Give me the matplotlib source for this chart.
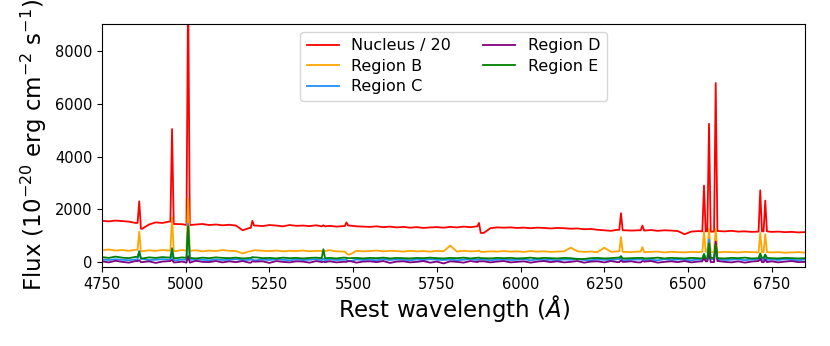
import numpy as np
import matplotlib.pyplot as plt

# continuum samples every 20 A from 4750 to 6850
grid = np.arange(4750, 6851, 20)

nucleus_cont = [1560, 1540, 1570, 1550, 1530, 1480, 1260, 1420, 1500, 1480,
                1530, 1440, 1430, 1400, 1420, 1440, 1400, 1420, 1390, 1410,
                1380, 1200, 1290, 1380, 1360, 1400, 1380, 1350, 1400, 1370,
                1380, 1360, 1390, 1350, 1370, 1340, 1360, 1380, 1350, 1340,
                1330, 1350, 1320, 1340, 1310, 1330, 1300, 1320, 1290, 1310,
                1320, 1300, 1330, 1310, 1340, 1320, 1350, 1100, 1280, 1310,
                1300, 1310, 1290, 1300, 1280, 1300, 1290, 1270, 1290, 1280,
                1260, 1270, 1240, 1250, 1220, 1200, 1180, 1220, 1200, 1190,
                1200, 1190, 1210, 1180, 1200, 1190, 1170, 1050, 1150, 1170,
                1160, 1150, 1170, 1160, 1180, 1150, 1160, 1140, 1150, 1160,
                1140, 1150, 1130, 1140, 1120, 1130]
region_b_cont = [440, 470, 430, 450, 420, 460, 400, 440, 420, 450,
                 430, 410, 450, 420, 440, 400, 430, 410, 450, 420,
                 410, 320, 400, 440, 420, 410, 430, 400, 420, 410,
                 430, 400, 420, 410, 440, 400, 390, 280, 420, 400,
                 410, 430, 400, 420, 410, 390, 420, 400, 410, 390,
                 420, 400, 620, 390, 420, 400, 410, 380, 400, 390,
                 410, 390, 400, 380, 410, 390, 400, 380, 390, 400,
                 540, 400, 380, 390, 370, 540, 380, 400, 380, 370,
                 390, 370, 380, 390, 360, 380, 370, 360, 380, 370,
                 380, 370, 360, 380, 370, 360, 380, 370, 360, 370,
                 360, 370, 350, 360, 370, 350]
region_c_cont = [90, 70, 100, 80, 60, 90, 110, 70, 80, 100,
                 80, 60, 90, 70, 100, 80, 60, 90, 70, 80,
                 100, 70, 80, 60, 90, 70, 100, 80, 60, 90,
                 70, 80, 100, 60, 90, 70, 80, 20, 90, 70,
                 80, 60, 100, 70, 90, 80, 60, 90, 70, 100,
                 80, 70, 90, 60, 80, 100, 70, 90, 60, 80,
                 90, 70, 80, 100, 60, 90, 70, 80, 60, 90,
                 80, 100, 70, 60, 90, 80, 70, 100, 60, 80,
                 90, 70, 80, 60, 100, 70, 90, 80, 60, 90,
                 80, 100, 90, 70, 80, 100, 60, 90, 80, 70,
                 90, 70, 100, 80, 60, 90]
region_d_cont = [20, -20, 40, 0, -30, 30, -10, 20, -40, 10,
                 30, -20, 10, -30, 40, 0, -10, 30, -20, 20,
                 -10, 30, -30, 10, 20, -40, 30, 0, -20, 20,
                 10, -30, 30, -10, 20, -20, 0, 30, -30, 10,
                 20, -10, 30, -40, 10, 20, -20, 0, 30, -30,
                 10, -60, 20, 0, -30, 30, -10, 20, -20, 10,
                 30, -20, 0, 20, -30, 10, 30, -10, 20, -20,
                 0, 30, -30, 10, 20, -20, 30, -10, 0, 20,
                 -20, 10, 30, -30, 0, 20, -10, 30, -20, 10,
                 20, -10, 30, 0, -20, 20, -30, 10, 30, -10,
                 20, -20, 10, 30, -10, 0]
region_e_cont = [180, 150, 200, 160, 140, 190, 130, 170, 150, 180,
                 160, 140, 170, 150, 130, 160, 140, 170, 150, 140,
                 160, 130, 150, 170, 140, 150, 130, 160, 140, 150,
                 130, 150, 160, 140, 150, 130, 160, 140, 150, 130,
                 150, 140, 160, 130, 150, 140, 130, 150, 140, 160,
                 140, 130, 150, 140, 160, 130, 150, 140, 130, 150,
                 140, 150, 130, 140, 160, 130, 150, 140, 130, 150,
                 140, 110, 110, 140, 150, 130, 140, 160, 130, 140,
                 150, 130, 140, 160, 130, 150, 140, 130, 150, 140,
                 130, 150, 140, 130, 150, 140, 160, 130, 140, 150,
                 140, 130, 150, 140, 130, 140]

# emission line centres and peak fluxes
line_wave = [4861, 4959, 5007, 5199, 5411, 5480, 5876, 6300, 6364,
             6548, 6563, 6583, 6716, 6731]
nucleus_peak = [2300, 5050, 10500, 1560, 1390, 1500, 1480, 1850, 1380,
                2900, 5250, 6800, 2720, 2330]
region_b_peak = [1150, 1700, 2400, 420, 430, 330, 430, 940, 560,
                 1150, 1250, 1250, 1100, 1050]
region_c_peak = [420, 300, 1450, 100, 120, 80, 90, 150, 100,
                 300, 850, 720, 250, 220]
region_d_peak = [60, 80, 220, 20, 10, 0, 20, 60, 30,
                 150, 350, 770, 120, 90]
region_e_peak = [380, 520, 1350, 180, 480, 150, 160, 220, 150,
                 300, 700, 650, 320, 280]

labels = ['Nucleus / 20', 'Region B', 'Region C', 'Region D', 'Region E']
colors = ['red', 'orange', 'dodgerblue', 'purple', 'green']


def build(cont, peaks):
    cont = np.array(cont, dtype=float)
    keep = np.ones(len(grid), bool)
    for c in line_wave:
        keep &= np.abs(grid - c) > 5
    w = list(grid[keep])
    f = list(cont[keep])
    for c, p in zip(line_wave, peaks):
        for dw in (-5, 5):
            w.append(c + dw)
            f.append(cont[np.abs(grid - (c + dw)).argmin()])
        w.append(c)
        f.append(p)
    order = np.argsort(w)
    return np.array(w)[order], np.array(f)[order]


series = [(nucleus_cont, nucleus_peak), (region_b_cont, region_b_peak),
          (region_c_cont, region_c_peak), (region_d_cont, region_d_peak),
          (region_e_cont, region_e_peak)]

fig, ax = plt.subplots(figsize=(8.3, 3.46), dpi=100)
fig.subplots_adjust(left=0.123, right=0.970, top=0.931, bottom=0.228)

for (cont, peaks), lab, col in zip(series, labels, colors):
    w, f = build(cont, peaks)
    ax.plot(w, f, color=col, lw=1.3, label=lab)

ax.set_xlim(4750, 6850)
ax.set_ylim(-200, 9050)
ax.set_xticks(np.arange(4750, 6751, 250))
ax.set_yticks([0, 2000, 4000, 6000, 8000])
ax.tick_params(labelsize=10.5)
ax.set_xlabel(r'Rest wavelength ($\AA$)', fontsize=16.5, labelpad=1)
ax.set_ylabel(r'Flux (10$^{-20}$ erg cm$^{-2}$ s$^{-1}$)', fontsize=16.5)
ax.legend(loc='upper center', ncol=2, fontsize=11.5, labelspacing=0.35)

fig.savefig('out.png', dpi=100)
